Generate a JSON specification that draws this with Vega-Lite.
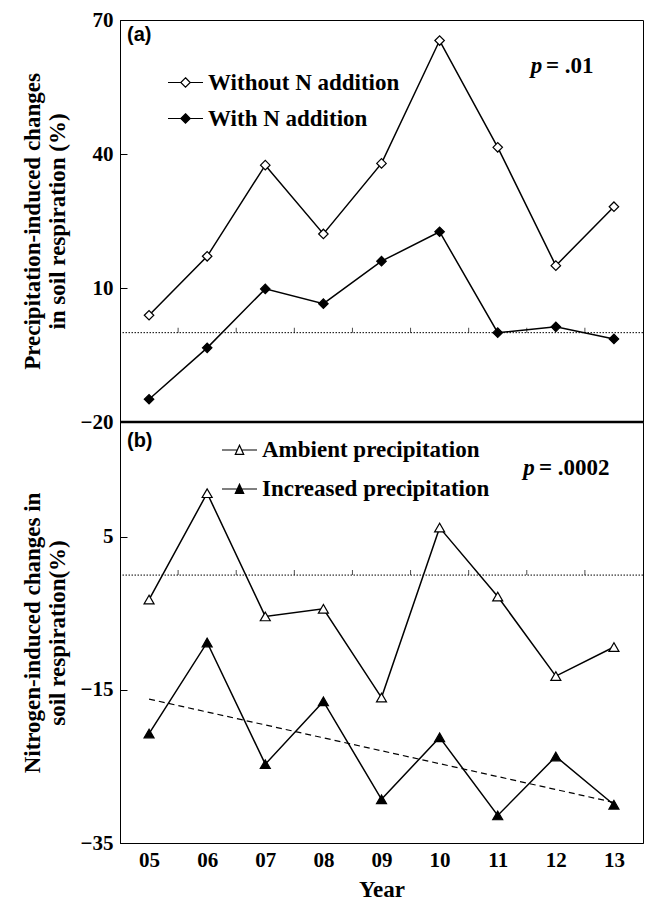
{
  "$schema": "https://vega.github.io/schema/vega-lite/v6.json",
  "padding": {"left": 20, "top": 8, "right": 0, "bottom": 0},
  "background": "white",
  "spacing": 0,
  "bounds": "flush",
  "config": {
    "view": {"stroke": "black", "strokeWidth": 1},
    "axis": {
      "labelFont": "Liberation Serif", "labelFontWeight": "bold", "labelFontSize": 21, "labelColor": "black",
      "titleFont": "Liberation Serif", "titleFontWeight": "bold", "titleFontSize": 23, "titleColor": "black",
      "grid": false, "domainColor": "black", "tickColor": "black"
    }
  },
  "datasets": {
    "a": [
      {"year": 5, "value": 3.9, "series": "Without N addition"},
      {"year": 6, "value": 17.1, "series": "Without N addition"},
      {"year": 7, "value": 37.5, "series": "Without N addition"},
      {"year": 8, "value": 22.1, "series": "Without N addition"},
      {"year": 9, "value": 37.9, "series": "Without N addition"},
      {"year": 10, "value": 65.4, "series": "Without N addition"},
      {"year": 11, "value": 41.5, "series": "Without N addition"},
      {"year": 12, "value": 15.0, "series": "Without N addition"},
      {"year": 13, "value": 28.2, "series": "Without N addition"},
      {"year": 5, "value": -14.9, "series": "With N addition"},
      {"year": 6, "value": -3.4, "series": "With N addition"},
      {"year": 7, "value": 9.8, "series": "With N addition"},
      {"year": 8, "value": 6.5, "series": "With N addition"},
      {"year": 9, "value": 16.0, "series": "With N addition"},
      {"year": 10, "value": 22.6, "series": "With N addition"},
      {"year": 11, "value": 0.0, "series": "With N addition"},
      {"year": 12, "value": 1.3, "series": "With N addition"},
      {"year": 13, "value": -1.4, "series": "With N addition"}
    ],
    "b": [
      {"year": 5, "value": -3.2, "series": "Ambient precipitation"},
      {"year": 6, "value": 10.7, "series": "Ambient precipitation"},
      {"year": 7, "value": -5.4, "series": "Ambient precipitation"},
      {"year": 8, "value": -4.4, "series": "Ambient precipitation"},
      {"year": 9, "value": -16.0, "series": "Ambient precipitation"},
      {"year": 10, "value": 6.2, "series": "Ambient precipitation"},
      {"year": 11, "value": -2.8, "series": "Ambient precipitation"},
      {"year": 12, "value": -13.2, "series": "Ambient precipitation"},
      {"year": 13, "value": -9.4, "series": "Ambient precipitation"},
      {"year": 5, "value": -20.7, "series": "Increased precipitation"},
      {"year": 6, "value": -8.8, "series": "Increased precipitation"},
      {"year": 7, "value": -24.7, "series": "Increased precipitation"},
      {"year": 8, "value": -16.5, "series": "Increased precipitation"},
      {"year": 9, "value": -29.3, "series": "Increased precipitation"},
      {"year": 10, "value": -21.2, "series": "Increased precipitation"},
      {"year": 11, "value": -31.4, "series": "Increased precipitation"},
      {"year": 12, "value": -23.7, "series": "Increased precipitation"},
      {"year": 13, "value": -30.0, "series": "Increased precipitation"}
    ],
    "trend": [
      {"year": 5, "value": -16.2},
      {"year": 13, "value": -29.7}
    ],
    "ticks": [
      {"year": 5.5, "value": 0}, {"year": 6.5, "value": 0}, {"year": 7.5, "value": 0}, {"year": 8.5, "value": 0},
      {"year": 9.5, "value": 0}, {"year": 10.5, "value": 0}, {"year": 11.5, "value": 0}, {"year": 12.5, "value": 0}
    ],
    "zero": [{"value": 0}],
    "base": [{"value": -20}],
    "notesA": [
      {"year": 11.57, "value": 59.6, "label": "p", "kind": "p"},
      {"year": 11.83, "value": 59.6, "label": "= .01", "kind": "eq"},
      {"year": 4.62, "value": 66.7, "label": "(a)", "kind": "tag"}
    ],
    "notesB": [
      {"year": 11.44, "value": 14.0, "label": "p", "kind": "p"},
      {"year": 11.71, "value": 14.0, "label": "= .0002", "kind": "eq"},
      {"year": 4.62, "value": 17.5, "label": "(b)", "kind": "tag"}
    ]
  },
  "resolve": {"scale": {"fill": "independent"}, "legend": {"fill": "independent"}},
  "vconcat": [
    {
      "width": 523,
      "height": 402,
      "layer": [
        {"data": {"name": "zero"}, "mark": {"type": "rule", "strokeDash": [1.5, 1.5], "strokeWidth": 1, "color": "black"},
         "encoding": {"y": {"field": "value", "type": "quantitative", "scale": {"domain": [-20, 70], "nice": false, "zero": false}}}},
        {"data": {"name": "base"}, "mark": {"type": "rule", "strokeWidth": 2.5, "color": "black"},
         "encoding": {"y": {"field": "value", "type": "quantitative", "scale": {"domain": [-20, 70], "nice": false, "zero": false}}}},
        {"data": {"name": "ticks"}, "mark": {"type": "tick", "orient": "vertical", "size": 5, "thickness": 1, "yOffset": -2.5, "color": "black", "strokeDash": [1, 1]},
         "encoding": {
           "x": {"field": "year", "type": "quantitative", "scale": {"domain": [4.5, 13.5], "nice": false, "zero": false}, "axis": null},
           "y": {"field": "value", "type": "quantitative", "scale": {"domain": [-20, 70], "nice": false, "zero": false}}}},
        {"data": {"name": "a"}, "mark": {"type": "line", "color": "black", "strokeWidth": 1.5},
         "encoding": {
           "x": {"field": "year", "type": "quantitative", "scale": {"domain": [4.5, 13.5], "nice": false, "zero": false}, "axis": null},
           "y": {"field": "value", "type": "quantitative", "scale": {"domain": [-20, 70], "nice": false, "zero": false},
                 "axis": {"values": [-20, 10, 40, 70], "tickSize": -7, "labelPadding": 14, "domain": true,
                          "title": ["Precipitation-induced changes", "in soil respiration (%)"], "titlePadding": 11, "titleLineHeight": 25}},
           "detail": {"field": "series"}}},
        {"data": {"name": "a"}, "mark": {"type": "point", "shape": "diamond", "filled": true, "size": 90, "stroke": "black", "strokeWidth": 1.2, "opacity": 1},
         "encoding": {
           "x": {"field": "year", "type": "quantitative", "scale": {"domain": [4.5, 13.5], "nice": false, "zero": false}, "axis": null},
           "y": {"field": "value", "type": "quantitative", "scale": {"domain": [-20, 70], "nice": false, "zero": false}},
           "fill": {"field": "series", "type": "nominal",
           "scale": {"domain": ["Without N addition", "With N addition"], "range": ["white", "black"]},
           "legend": {"orient": "none", "legendX": 47, "legendY": 44, "title": null,
             "symbolType": "M-1,0L-0.27,0M0.27,0L1,0M0,-0.27L0.27,0L0,0.27L-0.27,0Z",
             "symbolSize": 1225, "symbolStrokeColor": "black", "symbolStrokeWidth": 1.2,
             "labelFont": "Liberation Serif", "labelFontWeight": "bold", "labelFontSize": 23, "labelColor": "black",
             "labelOffset": 4, "rowPadding": 5, "padding": 0, "labelLimit": 500}}}},
        {"data": {"name": "notesA"}, "transform": [{"filter": "datum.kind == 'p'"}],
         "mark": {"type": "text", "align": "left", "baseline": "middle", "font": "Liberation Serif", "fontStyle": "italic", "fontWeight": "bold", "fontSize": 23, "color": "black"},
         "encoding": {
           "x": {"field": "year", "type": "quantitative", "scale": {"domain": [4.5, 13.5], "nice": false, "zero": false}, "axis": null},
           "y": {"field": "value", "type": "quantitative", "scale": {"domain": [-20, 70], "nice": false, "zero": false}},
           "text": {"field": "label"}}},
        {"data": {"name": "notesA"}, "transform": [{"filter": "datum.kind == 'eq'"}],
         "mark": {"type": "text", "align": "left", "baseline": "middle", "font": "Liberation Serif", "fontWeight": "bold", "fontSize": 23, "color": "black"},
         "encoding": {
           "x": {"field": "year", "type": "quantitative", "scale": {"domain": [4.5, 13.5], "nice": false, "zero": false}, "axis": null},
           "y": {"field": "value", "type": "quantitative", "scale": {"domain": [-20, 70], "nice": false, "zero": false}},
           "text": {"field": "label"}}},
        {"data": {"name": "notesA"}, "transform": [{"filter": "datum.kind == 'tag'"}],
         "mark": {"type": "text", "align": "left", "baseline": "middle", "font": "Liberation Sans", "fontWeight": "bold", "fontSize": 20, "color": "black"},
         "encoding": {
           "x": {"field": "year", "type": "quantitative", "scale": {"domain": [4.5, 13.5], "nice": false, "zero": false}, "axis": null},
           "y": {"field": "value", "type": "quantitative", "scale": {"domain": [-20, 70], "nice": false, "zero": false}},
           "text": {"field": "label"}}}
      ]
    },
    {
      "width": 523,
      "height": 421,
      "layer": [
        {"data": {"name": "zero"}, "mark": {"type": "rule", "strokeDash": [1.5, 1.5], "strokeWidth": 1, "color": "black"},
         "encoding": {"y": {"field": "value", "type": "quantitative", "scale": {"domain": [-35, 20], "nice": false, "zero": false}}}},
        {"data": {"name": "ticks"}, "mark": {"type": "tick", "orient": "vertical", "size": 5, "thickness": 1, "yOffset": -2.5, "color": "black", "strokeDash": [1, 1]},
         "encoding": {
           "x": {"field": "year", "type": "quantitative", "scale": {"domain": [4.5, 13.5], "nice": false, "zero": false}},
           "y": {"field": "value", "type": "quantitative", "scale": {"domain": [-35, 20], "nice": false, "zero": false}}}},
        {"data": {"name": "trend"}, "mark": {"type": "line", "color": "black", "strokeWidth": 1.2, "strokeDash": [6, 4]},
         "encoding": {
           "x": {"field": "year", "type": "quantitative", "scale": {"domain": [4.5, 13.5], "nice": false, "zero": false}},
           "y": {"field": "value", "type": "quantitative", "scale": {"domain": [-35, 20], "nice": false, "zero": false}}}},
        {"data": {"name": "b"}, "mark": {"type": "line", "color": "black", "strokeWidth": 1.5},
         "encoding": {
           "x": {"field": "year", "type": "quantitative", "scale": {"domain": [4.5, 13.5], "nice": false, "zero": false},
                 "axis": {"values": [5, 6, 7, 8, 9, 10, 11, 12, 13], "labelExpr": "datum.value < 10 ? '0' + datum.value : '' + datum.value",
                          "ticks": false, "labelPadding": 6, "title": "Year", "titlePadding": 8, "domain": true}},
           "y": {"field": "value", "type": "quantitative", "scale": {"domain": [-35, 20], "nice": false, "zero": false},
                 "axis": {"values": [-35, -15, 5], "tickSize": -7, "labelPadding": 14, "domain": true,
                          "title": ["Nitrogen-induced changes in", "soil respiration(%)"], "titlePadding": 11, "titleLineHeight": 25}},
           "detail": {"field": "series"}}},
        {"data": {"name": "b"}, "mark": {"type": "point", "shape": "triangle-up", "filled": true, "size": 100, "stroke": "black", "strokeWidth": 1.2, "opacity": 1},
         "encoding": {
           "x": {"field": "year", "type": "quantitative", "scale": {"domain": [4.5, 13.5], "nice": false, "zero": false}},
           "y": {"field": "value", "type": "quantitative", "scale": {"domain": [-35, 20], "nice": false, "zero": false}},
           "fill": {"field": "series", "type": "nominal",
           "scale": {"domain": ["Ambient precipitation", "Increased precipitation"], "range": ["white", "black"]},
           "legend": {"orient": "none", "legendX": 101, "legendY": 9.5, "title": null,
             "symbolType": "M-1,0L-0.13,0M0.13,0L1,0M0,-0.27L0.24,0.25L-0.24,0.25Z",
             "symbolSize": 1225, "symbolStrokeColor": "black", "symbolStrokeWidth": 1.2,
             "labelFont": "Liberation Serif", "labelFontWeight": "bold", "labelFontSize": 23, "labelColor": "black",
             "labelOffset": 4, "rowPadding": 8, "padding": 0, "labelLimit": 500}}}},
        {"data": {"name": "notesB"}, "transform": [{"filter": "datum.kind == 'p'"}],
         "mark": {"type": "text", "align": "left", "baseline": "middle", "font": "Liberation Serif", "fontStyle": "italic", "fontWeight": "bold", "fontSize": 23, "color": "black"},
         "encoding": {
           "x": {"field": "year", "type": "quantitative", "scale": {"domain": [4.5, 13.5], "nice": false, "zero": false}},
           "y": {"field": "value", "type": "quantitative", "scale": {"domain": [-35, 20], "nice": false, "zero": false}},
           "text": {"field": "label"}}},
        {"data": {"name": "notesB"}, "transform": [{"filter": "datum.kind == 'eq'"}],
         "mark": {"type": "text", "align": "left", "baseline": "middle", "font": "Liberation Serif", "fontWeight": "bold", "fontSize": 23, "color": "black"},
         "encoding": {
           "x": {"field": "year", "type": "quantitative", "scale": {"domain": [4.5, 13.5], "nice": false, "zero": false}},
           "y": {"field": "value", "type": "quantitative", "scale": {"domain": [-35, 20], "nice": false, "zero": false}},
           "text": {"field": "label"}}},
        {"data": {"name": "notesB"}, "transform": [{"filter": "datum.kind == 'tag'"}],
         "mark": {"type": "text", "align": "left", "baseline": "middle", "font": "Liberation Sans", "fontWeight": "bold", "fontSize": 20, "color": "black"},
         "encoding": {
           "x": {"field": "year", "type": "quantitative", "scale": {"domain": [4.5, 13.5], "nice": false, "zero": false}},
           "y": {"field": "value", "type": "quantitative", "scale": {"domain": [-35, 20], "nice": false, "zero": false}},
           "text": {"field": "label"}}}
      ]
    }
  ]
}
